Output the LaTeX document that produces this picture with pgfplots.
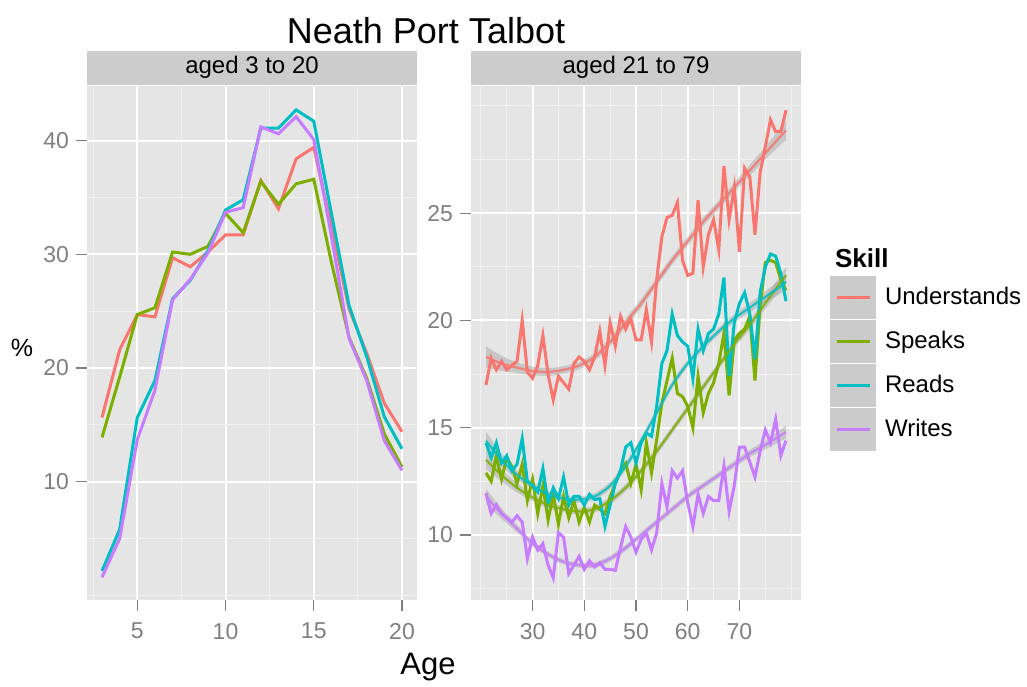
\documentclass[border=0pt]{standalone}
\usepackage{pgfplots}
\pgfplotsset{compat=1.18}
\usepackage{pgfplotstable}
\usepgfplotslibrary{fillbetween}
\usepackage{fontspec}
\setmainfont{Liberation Sans}
\definecolor{ggbg}{HTML}{E5E5E5}
\definecolor{ggstrip}{HTML}{CCCCCC}
\definecolor{ggminor}{HTML}{F2F2F2}
\definecolor{ggtick}{HTML}{7F7F7F}
\definecolor{ggkey}{HTML}{CBCBCB}
\definecolor{ggrib}{HTML}{999999}
\definecolor{cU}{HTML}{F8766D}
\definecolor{cS}{HTML}{7CAE00}
\definecolor{cR}{HTML}{00BFC4}
\definecolor{cW}{HTML}{C77CFF}

\pgfplotstableread{
age U S R W
3 15.65 13.9 2.15 1.6
4 21.6 19.2 5.8 5.0
5 24.7 24.7 15.65 13.7
6 24.5 25.3 18.9 18.05
7 29.7 30.2 26.1 26.0
8 28.9 30.0 27.7 27.8
9 30.2 30.7 30.3 30.1
10 31.7 33.6 33.9 33.7
11 31.7 31.9 34.8 34.1
12 36.5 36.4 41.1 41.2
13 34.0 34.4 41.1 40.6
14 38.4 36.2 42.7 42.1
15 39.4 36.6 41.7 40.1
16 32.5 29.3 33.6 31.6
17 25.2 22.7 25.5 22.6
18 21.3 19.1 21.0 18.9
19 16.9 14.2 15.7 13.6
20 14.4 11.3 12.9 11.0
}\leftdata

\pgfplotstableread{
age U S R W
21 17.0 12.9 14.3 11.95
22 18.25 12.5 13.6 11.0
23 17.7 13.7 14.3 11.4
24 18.1 12.6 13.35 11.0
25 17.7 13.6 13.7 10.8
26 17.9 13.2 13.0 10.6
27 18.1 12.4 13.3 10.9
28 20.0 13.3 14.5 10.6
29 17.6 11.6 12.5 8.9
30 17.3 12.6 12.3 9.9
31 17.9 11.0 12.0 9.3
32 19.3 12.3 13.1 9.6
33 17.5 10.7 11.5 8.6
34 16.3 11.9 12.2 8.0
35 17.4 10.5 11.7 10.1
36 17.1 11.8 12.7 9.9
37 16.8 10.8 11.4 8.2
38 18.0 11.6 11.8 8.6
39 18.3 10.6 11.8 9.0
40 18.1 11.3 11.4 8.4
41 17.7 10.6 11.9 8.8
42 18.3 11.4 11.65 8.5
43 19.5 11.2 11.7 8.7
44 17.9 11.0 10.4 8.4
45 19.9 11.8 11.4 8.4
46 18.8 12.4 12.4 8.35
47 20.2 13.0 13.0 9.4
48 19.6 13.35 14.1 10.4
49 20.1 12.4 14.3 9.9
50 19.1 13.3 13.35 9.2
51 19.1 12.1 14.3 9.8
52 20.5 14.3 14.75 10.1
53 19.0 12.9 14.6 9.3
54 21.9 14.45 16.0 10.1
55 23.9 16.15 18.0 12.4
56 24.8 17.2 18.6 11.3
57 24.9 18.25 20.3 13.0
58 25.5 16.6 19.3 12.65
59 22.8 16.45 19.0 13.0
60 22.1 16.0 18.8 11.5
61 22.2 15.0 17.3 10.4
62 25.6 17.4 19.6 11.9
63 22.5 15.7 18.6 11.0
64 24.0 16.6 19.4 11.8
65 24.7 17.1 19.6 11.6
66 23.3 18.0 20.3 11.6
67 27.2 19.4 22.0 13.2
68 24.7 16.5 17.4 11.1
69 26.2 19.1 19.9 12.3
70 23.2 19.4 20.8 14.1
71 27.1 19.6 21.3 14.1
72 26.7 20.2 20.3 13.4
73 24.0 17.2 18.2 12.7
74 26.9 20.65 21.3 13.9
75 28.1 22.7 22.5 14.9
76 29.35 22.8 23.1 14.3
77 28.8 22.7 23.0 15.4
78 28.8 21.9 22.2 13.7
79 29.8 21.4 20.9 14.4
}\rightdata

\pgfplotstableread{
age rs gs cs ps w
21 18.3 13.5 14.4 11.8 0.5
24 18.0 12.8 13.5 11.0 0.35
27 17.8 12.2 12.8 10.3 0.25
30 17.65 11.75 12.3 9.6 0.2
33 17.6 11.4 11.9 9.1 0.18
36 17.7 11.2 11.7 8.75 0.17
39 17.9 11.1 11.65 8.6 0.17
42 18.3 11.2 11.8 8.6 0.18
45 19.0 11.6 12.3 8.9 0.2
48 19.9 12.2 13.2 9.4 0.2
51 20.8 13.0 14.4 10.0 0.2
54 21.8 13.9 15.7 10.6 0.2
57 22.8 14.9 17.0 11.2 0.2
60 23.7 15.9 18.0 11.8 0.2
63 24.6 16.9 18.8 12.3 0.2
66 25.4 17.9 19.5 12.8 0.2
69 26.2 18.9 20.1 13.3 0.22
72 27.0 19.8 20.6 13.8 0.25
75 27.8 20.8 21.1 14.2 0.3
78 28.6 21.8 21.6 14.65 0.4
79 28.85 22.1 21.8 14.8 0.45
}\smoothdata

\newcommand{\ribbon}[3]{%
  \addplot[draw=none, smooth, forget plot, name path=#1up] table[x=age, y expr=\thisrow{#1}+#2*\thisrow{w}] {\smoothdata};
  \addplot[draw=none, smooth, forget plot, name path=#1lo] table[x=age, y expr=\thisrow{#1}-#2*\thisrow{w}] {\smoothdata};
  \addplot[fill=ggrib, fill opacity=0.4, draw=none, forget plot] fill between[of=#1up and #1lo];
  \addplot[#3, line width=1.1pt, smooth, forget plot, opacity=0.85] table[x=age, y=#1] {\smoothdata};
}

\pgfplotsset{ggfacet/.style={
  scale only axis, width=165pt, height=257pt, anchor=south west,
  axis background/.style={fill=ggbg},
  axis line style={draw=none},
  grid=both,
  major grid style={white, line width=1pt},
  minor grid style={ggminor, line width=0.5pt},
  tick align=outside, xtick pos=bottom, ytick pos=left,
  major tick length=5.5pt, minor tick length=0pt,
  major tick style={ggtick, line width=0.7pt},
  tick label style={font=\fontsize{11.5}{12}\selectfont, text=ggtick},
  xticklabel style={yshift=-2.5pt},
  /pgf/number format/assume math mode=true,
  every axis title/.style={at={(0.5,1)}, anchor=south, yshift=0.5pt, fill=ggstrip, minimum width=165pt, minimum height=17pt, inner sep=0pt, text height=8.6pt, text depth=2.5pt, font=\fontsize{12}{14}\selectfont},
  every axis plot/.append style={line width=1.5pt},
}}

\begin{document}
\begin{tikzpicture}

\begin{axis}[ggfacet, at={(43.5pt,-300pt)},
  title={aged 3 to 20},
  xmin=2.15, xmax=20.85, ymin=-0.4, ymax=44.8,
  xtick={5,10,15,20}, minor xtick={2.5,7.5,12.5,17.5},
  ytick={10,20,30,40}, minor ytick={0,5,15,25,35}]
\addplot[cU] table[x=age, y=U] {\leftdata};
\addplot[cS] table[x=age, y=S] {\leftdata};
\addplot[cR] table[x=age, y=R] {\leftdata};
\addplot[cW] table[x=age, y=W] {\leftdata};
\end{axis}

\begin{axis}[ggfacet, at={(235.5pt,-300pt)},
  title={aged 21 to 79},
  xmin=18.1, xmax=81.9, ymin=6.97, ymax=30.93,
  xtick={30,40,50,60,70}, minor xtick={20,25,35,45,55,65,75,80},
  ytick={10,15,20,25}, minor ytick={7.5,12.5,17.5,22.5,27.5,30},
  legend cell align=left,
  legend style={at={(1.088,0.631)}, anchor=north west, draw=none, fill=none,
    inner sep=0pt, outer sep=0pt,
    row sep=0.5pt, column sep=0pt, nodes={inner sep=0pt},
    font=\fontsize{12}{14}\selectfont},
  legend image code/.code={%
    \fill[ggkey] (0pt,-10pt) rectangle (21.5pt,10pt);
    \path (26pt,0pt);
    \draw[#1, line width=1.5pt] (2.5pt,0pt) -- (19pt,0pt);}]
\addplot[cU] table[x=age, y=U] {\rightdata};
\addlegendentry{Understands}
\addplot[cS] table[x=age, y=S] {\rightdata};
\addlegendentry{Speaks}
\addplot[cR] table[x=age, y=R] {\rightdata};
\addlegendentry{Reads}
\addplot[cW] table[x=age, y=W] {\rightdata};
\addlegendentry{Writes}
\ribbon{rs}{1}{cU}
\ribbon{gs}{0.85}{cS}
\ribbon{cs}{0.85}{cR}
\ribbon{ps}{0.7}{cW}
\end{axis}

\node[font=\fontsize{18}{20}\selectfont] at (213pt,-15.5pt) {Neath Port Talbot};
\node[font=\fontsize{15.5}{18}\selectfont] at (214pt,-333.5pt) {Age};
\node[font=\fontsize{12.5}{14}\selectfont] at (11pt,-174pt) {\%};
\node[font=\bfseries\fontsize{13}{15}\selectfont, anchor=west] at (414pt,-129pt) {Skill};
\pgfresetboundingbox
\path[use as bounding box] (0pt,0pt) rectangle (513.5pt,-343pt);
\end{tikzpicture}
\end{document}
